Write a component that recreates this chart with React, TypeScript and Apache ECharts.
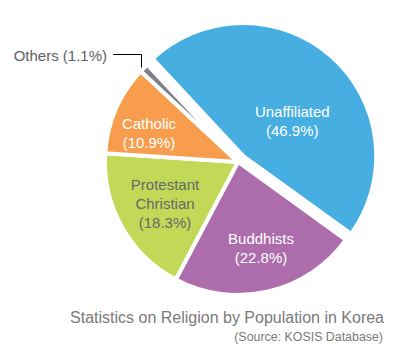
import React, { useEffect, useRef } from 'react';
import * as echarts from 'echarts';

const categories = ['Unaffiliated', 'Buddhists', 'Protestant Christian', 'Catholic', 'Others'];
const shares = [46.9, 22.8, 18.3, 10.9, 1.1];
const labelNames = ['Unaffiliated', 'Buddhists', 'Protestant\nChristian', 'Catholic', 'Others'];
const sliceColors = ['#47AEE1', '#AD6DAC', '#C2D958', '#F89D4D', '#808184'];
const labelColors = ['#ffffff', '#ffffff', '#676767', '#ffffff', '#5f5f5f'];
const titleText = 'Statistics on Religion by Population in Korea';
const sourceText = '(Source: KOSIS Database)';

// label anchor positions (centre of each label block), layout only
const labelAnchors: Record<string, [number, number]> = {
  Buddhists: [261, 248],
  'Protestant Christian': [165, 203],
  Catholic: [149, 133],
  Others: [107, 55],
};
// the exploded slice keeps its own label state; nudge it with padding / spacer instead
const explodedLabelPadding = [0, 0, 0, 6];

export default function App() {
  const ref = useRef<HTMLDivElement>(null);
  useEffect(() => {
    document.body.style.margin = '0';
    const chart = echarts.init(ref.current!, undefined, { renderer: 'svg' });
    const data = categories.map((name, i) => ({
      name,
      value: shares[i],
      selected: i === 0,
      itemStyle: { color: sliceColors[i] },
      label: {
        show: true,
        position: name === 'Others' ? 'outside' : 'inside',
        color: labelColors[i],
        fontSize: 15,
        lineHeight: 19,
        fontFamily: 'Liberation Sans, Arial, sans-serif',
        padding: i === 0 ? explodedLabelPadding : 0,
        rich: { gap: { lineHeight: 34, fontSize: 1 } },
        formatter: name === 'Others'
          ? `${labelNames[i]} (${shares[i].toFixed(1)}%)`
          : `${i === 0 ? '{gap| }\n' : ''}${labelNames[i]}\n(${shares[i].toFixed(1)}%)`,
      },
      labelLine: { show: name === 'Others' },
    }));
    chart.setOption({
      animation: false,
      backgroundColor: '#ffffff',
      title: [
        {
          text: titleText,
          right: 24,
          top: 304,
          textStyle: { fontSize: 16, fontWeight: 'normal', color: '#7a7a7a', fontFamily: 'Liberation Sans, Arial, sans-serif' },
        },
        {
          text: sourceText,
          right: 25,
          top: 326,
          textStyle: { fontSize: 12.4, fontWeight: 'normal', color: '#7a7a7a', fontFamily: 'Liberation Sans, Arial, sans-serif' },
        },
      ],
      series: [
        {
          type: 'pie',
          center: [238, 162],
          radius: 133,
          startAngle: 133,
          clockwise: true,
          selectedMode: 'single',
          selectedOffset: 8,
          avoidLabelOverlap: false,
          emphasis: { disabled: true },
          itemStyle: { borderColor: '#ffffff', borderWidth: 4 },
          labelLine: { lineStyle: { color: '#000000', width: 1 } },
          data,
          labelLayout: (params: any) => {
            const name = categories[params.dataIndex];
            const a = labelAnchors[name];
            if (!a) return {};
            if (name === 'Others') {
              const pts = params.labelLinePoints;
              const start = pts ? pts[0] : [140, 70];
              const vx = Math.round(start[0] - 3) + 0.5;
              const hy = Math.round(a[1] - 1) + 0.5;
              return {
                x: a[0],
                y: a[1],
                align: 'right',
                verticalAlign: 'middle',
                labelLinePoints: [[vx, start[1] + 1], [vx, hy], [a[0] + 6, hy]],
              };
            }
            return { x: a[0], y: a[1], align: 'center', verticalAlign: 'middle' };
          },
        },
      ],
    });
    return () => chart.dispose();
  }, []);
  return <div ref={ref} style={{ width: 413, height: 360 }} />;
}
